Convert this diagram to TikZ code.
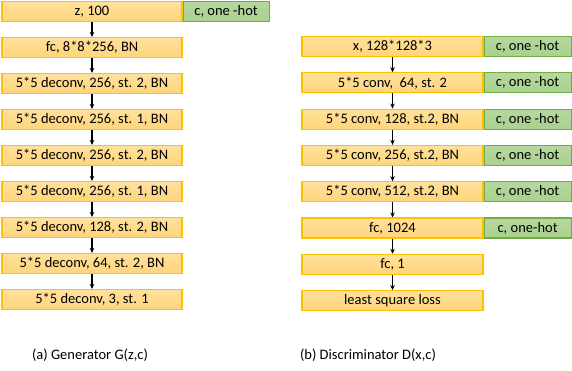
\documentclass[tikz,border=0pt]{standalone}
\usepackage{fontspec}
\setmainfont{Carlito}
\usetikzlibrary{arrows.meta}
\definecolor{obox}{HTML}{FFD57A}
\definecolor{oedge}{HTML}{FFC000}
\definecolor{gbox}{HTML}{A9D18E}
\definecolor{gedge}{HTML}{70AD47}
\tikzset{
  layer/.style={draw=oedge, line width=1.1pt, top color=obox!75!white, bottom color=obox, minimum height=20pt, inner sep=0pt, font=\fontsize{14.5}{16}\selectfont},
  glayer/.style={layer, draw=gedge, top color=gbox!85!white, bottom color=gbox, minimum width=87pt},
  gen/.style={layer, minimum width=180pt},
  dis/.style={layer, minimum width=181pt},
  flow/.style={-{Stealth[length=5pt,width=4.5pt]}, line width=1.1pt, black},
  captext/.style={font=\fontsize{14.5}{16}\selectfont}
}
\begin{document}
\begin{tikzpicture}[x=1pt,y=-1pt]
\useasboundingbox (0,0) rectangle (572,370);
% Generator
\node[gen] (g0) at (92,11.5) {z, 100};
\node[glayer, minimum width=86pt, anchor=west] (gc) at (g0.east) {c, one -hot};
\node[gen] (g1) at (92,47.5) {fc, 8*8*256, BN};
\node[gen] (g2) at (92,83.5) {5*5 deconv, 256, st. 2, BN};
\node[gen] (g3) at (92,119.5) {5*5 deconv, 256, st. 1, BN};
\node[gen] (g4) at (92,155.5) {5*5 deconv, 256, st. 2, BN};
\node[gen] (g5) at (92,191.5) {5*5 deconv, 256, st. 1, BN};
\node[gen] (g6) at (92,227.5) {5*5 deconv, 128, st. 2, BN};
\node[gen] (g7) at (92,263.5) {5*5 deconv, 64, st. 2, BN};
\node[gen] (g8) at (92,299.5) {5*5 deconv, 3, st. 1};
\foreach \a/\b in {g0/g1,g1/g2,g2/g3,g3/g4,g4/g5,g5/g6,g6/g7,g7/g8}
  \draw[flow] (\a.south) -- (\b.north);
% Discriminator
\node[dis] (d0) at (392.5,46.5) {x, 128*128*3};
\node[dis] (d1) at (392.5,82.8) {5*5 conv,\ \ 64, st. 2};
\node[dis] (d2) at (392.5,119.1) {5*5 conv, 128, st.2, BN};
\node[dis] (d3) at (392.5,155.4) {5*5 conv, 256, st.2, BN};
\node[dis] (d4) at (392.5,191.7) {5*5 conv, 512, st.2, BN};
\node[dis] (d5) at (392.5,228.0) {fc, 1024};
\node[dis] (d6) at (392.5,264.3) {fc, 1};
\node[dis] (d7) at (392.5,300.6) {least square loss};
\node[glayer, anchor=west] (dc0) at (d0.east) {c, one -hot};
\node[glayer, anchor=west] (dc1) at (d1.east) {c, one -hot};
\node[glayer, anchor=west] (dc2) at (d2.east) {c, one -hot};
\node[glayer, anchor=west] (dc3) at (d3.east) {c, one -hot};
\node[glayer, anchor=west] (dc4) at (d4.east) {c, one -hot};
\node[glayer, anchor=west] (dc5) at (d5.east) {c, one-hot};
\foreach \a/\b in {d0/d1,d1/d2,d2/d3,d3/d4,d4/d5,d5/d6,d6/d7}
  \draw[flow] (\a.south) -- (\b.north);
% Captions
\node[captext] (capa) at (90,355) {(a) Generator G(z,c)};
\node[captext] (capb) at (368,355) {(b) Discriminator D(x,c)};
\end{tikzpicture}
\end{document}
